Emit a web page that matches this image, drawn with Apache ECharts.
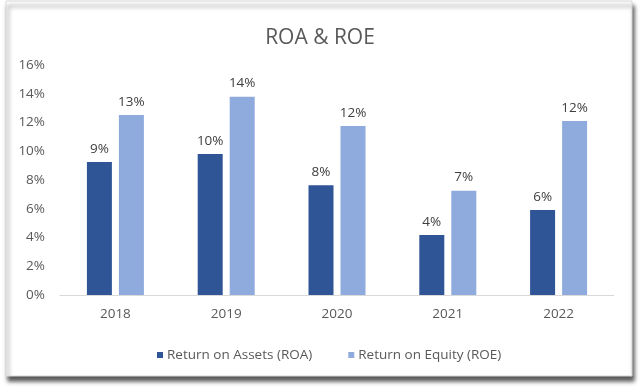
<!DOCTYPE html>
<html>
<head>
<meta charset="utf-8">
<script src="https://cdn.jsdelivr.net/npm/echarts@6/dist/echarts.min.js"></script>
<style>html,body{margin:0;padding:0;background:#fff;}#c{width:640px;height:390px;}</style>
</head>
<body>
<div id="c"></div>
<script>
const categories = ['2018', '2019', '2020', '2021', '2022'];
const roa = [9.25, 9.81, 7.63, 4.17, 5.91];
const roe = [12.52, 13.8, 11.76, 7.26, 12.1];
const seriesNames = ['Return on Assets (ROA)', 'Return on Equity (ROE)'];
const yTicks = [0, 2, 4, 6, 8, 10, 12, 14, 16];

const FONT = '"Open Sans", sans-serif';
const chart = echarts.init(document.getElementById('c'), null, {renderer: 'canvas'});
const labelOpt = {
  show: true, position: 'top', distance: 6,
  formatter: p => Math.round(p.value) + '%',
  color: '#404040', fontSize: 13.5, fontFamily: FONT
};
chart.setOption({
  backgroundColor: '#ffffff',
  animation: false,
  graphic: [{
    type: 'rect', z: -10, silent: true,
    shape: {x: 6, y: 1, width: 626, height: 375},
    style: {fill: '#ffffff', stroke: '#d6d6d6', lineWidth: 1,
      shadowBlur: 4, shadowColor: 'rgba(0,0,0,0.65)', shadowOffsetX: 2, shadowOffsetY: 5}
  }],
  title: {
    text: 'ROA & ROE', left: 'center', top: 23,
    textStyle: {fontFamily: FONT, fontSize: 21, fontWeight: 'normal', color: '#595959'}
  },
  legend: {
    data: seriesNames, left: 152, top: 343,
    itemWidth: 6, itemHeight: 6, itemGap: 36, icon: 'rect',
    textStyle: {fontFamily: FONT, fontSize: 13.5, color: '#595959', padding: [0, 0, 0, -1]}
  },
  grid: {left: 60, right: 26, top: 65, bottom: 95, containLabel: false},
  xAxis: {
    type: 'category', data: categories,
    axisLine: {lineStyle: {color: '#d9d9d9'}},
    axisTick: {show: false},
    axisLabel: {fontFamily: FONT, fontSize: 13.5, color: '#595959', margin: 12}
  },
  yAxis: {
    type: 'value', min: yTicks[0], max: yTicks[yTicks.length - 1], interval: 2,
    axisLine: {show: false}, axisTick: {show: false},
    splitLine: {show: false},
    axisLabel: {fontFamily: FONT, fontSize: 13.5, color: '#595959', margin: 15, formatter: '{value}%'}
  },
  series: [
    {name: seriesNames[0], type: 'bar', data: roa, barWidth: 25, barGap: '28%',
      itemStyle: {color: '#2F5597'}, label: labelOpt},
    {name: seriesNames[1], type: 'bar', data: roe, barWidth: 25, barGap: '28%',
      itemStyle: {color: '#8FAADC'}, label: labelOpt}
  ]
});
</script>
</body>
</html>
